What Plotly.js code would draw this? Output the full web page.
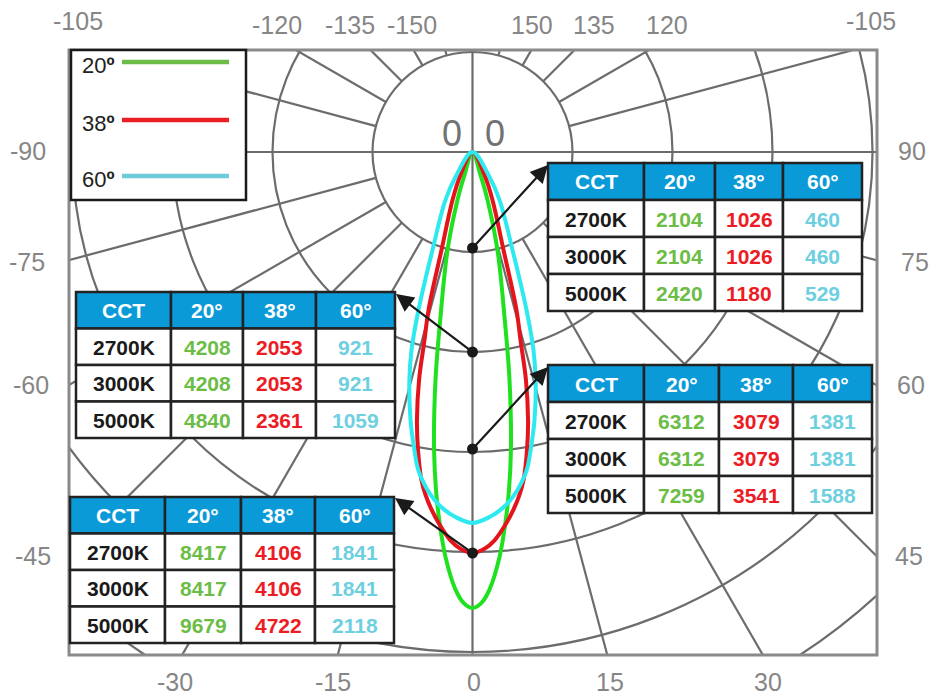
<!DOCTYPE html>
<html><head><meta charset="utf-8">
<script src="https://cdn.plot.ly/plotly-3.0.1.min.js"></script>
<style>html,body{margin:0;padding:0;background:#fff}#chart{width:931px;height:696px}</style>
</head><body><div id="chart"></div>
<script>
// ---- Beam distribution data: angle from nadir (deg) and intensity (grid-ring units) ----
const angles20 = [0, 1.14, 2.22, 3.81, 5.08, 6.16, 7.36, 9.22, 10.98, 14.3, 17.4, 19.2, 20];
const radii20  = [4.56, 4.51, 4.38, 4.06, 3.72, 3.40, 3.00, 2.31, 1.68, 1.01, 0.50, 0.24, 0];
const angles38 = [0, 1.73, 3.25, 5.06, 6.53, 7.80, 8.84, 10.36, 11.70, 13.2, 14.32, 15.56, 17.55, 22.6, 27.55, 29];
const radii38  = [4.01, 3.97, 3.89, 3.74, 3.60, 3.46, 3.32, 3.03, 2.74, 2.34, 1.94, 1.64, 1.03, 0.52, 0.26, 0];
const angles60 = [0, 2.82, 4.47, 6.23, 7.58, 9.64, 11.01, 13.03, 15.45, 17.12, 18.87, 22.2, 29.4, 34.8, 36];
const radii60  = [3.71, 3.65, 3.59, 3.50, 3.41, 3.23, 3.04, 2.75, 2.37, 2.07, 1.67, 1.06, 0.55, 0.28, 0];
const beamLabels = ['20º', '38º', '60º'];

// measuring points on the nadir axis (ring units)
const pointRadii = [0.96, 2.0, 2.97, 4.01];

// ---- Illuminance tables ----
const tableHeader = ['CCT', '20°', '38°', '60°'];
const cctLabels = ['2700K', '3000K', '5000K'];
const tableA20 = [2104, 2104, 2420], tableA38 = [1026, 1026, 1180], tableA60 = [460, 460, 529];
const tableB20 = [4208, 4208, 4840], tableB38 = [2053, 2053, 2361], tableB60 = [921, 921, 1059];
const tableC20 = [6312, 6312, 7259], tableC38 = [3079, 3079, 3541], tableC60 = [1381, 1381, 1588];
const tableD20 = [8417, 8417, 9679], tableD38 = [4106, 4106, 4722], tableD60 = [1841, 1841, 2118];

// ---- Angle labels ----
const topLabels = ['-105', '-120', '-135', '-150', '150', '135', '120', '-105'];
const leftLabels = ['-90', '-75', '-60', '-45'];
const rightLabels = ['90', '75', '60', '45'];
const bottomLabels = ['-30', '-15', '0', '15', '30'];

// ---------------------------------------------------------------
const L = 69, R = 877, T = 50, B = 655, CX = 472.5, CY = 152;
const X = px => (px - L) / (R - L);
const Y = py => (B - py) / (B - T);
const rad = d => d * Math.PI / 180;
const FONT = 'Liberation Sans, Arial, sans-serif';

const beamColors = ['#1fe11f', '#e3141c', '#2de9f0'];
const legendColors = ['#6bbd47', '#ec1f27', '#6dcbdc'];
const gridColor = '#6c6c6c';

function beamTrace(angles, radii, color, name) {
  const a = [], r = [];
  for (let i = angles.length - 1; i >= 0; i--) { a.push(-angles[i]); r.push(radii[i]); }
  for (let i = 1; i < angles.length; i++) { a.push(angles[i]); r.push(radii[i]); }
  return {
    type: 'scatter', mode: 'lines', name: name,
    x: a.map((d, i) => r[i] * Math.sin(rad(d))),
    y: a.map((d, i) => -r[i] * Math.cos(rad(d))),
    line: {color: color, width: 4, shape: 'spline', smoothing: 1},
    hoverinfo: 'skip'
  };
}

const traces = [
  beamTrace(angles20, radii20, beamColors[0], beamLabels[0]),
  beamTrace(angles38, radii38, beamColors[1], beamLabels[1]),
  beamTrace(angles60, radii60, beamColors[2], beamLabels[2]),
  {type: 'scatter', mode: 'markers', x: pointRadii.map(() => 0), y: pointRadii.map(r => -r),
   marker: {color: '#1a1a1a', size: 11}, hoverinfo: 'skip'}
];

// ---- grid shapes ----
const shapes = [];
const annotations = [];
for (let r = 1; r <= 7; r++) {
  shapes.push({type: 'circle', xref: 'x', yref: 'y', x0: -r, x1: r, y0: -r, y1: r,
    line: {color: gridColor, width: 2.2}, layer: 'below'});
}
for (let k = 0; k < 24; k++) {
  const a = k * 15;
  if (a % 90 === 0) continue;
  shapes.push({type: 'line', xref: 'x', yref: 'y',
    x0: Math.sin(rad(a)), y0: -Math.cos(rad(a)), x1: 9 * Math.sin(rad(a)), y1: -9 * Math.cos(rad(a)),
    line: {color: gridColor, width: 2.2}, layer: 'below'});
}
shapes.push({type: 'line', xref: 'x', yref: 'y', x0: 0, x1: 0, y0: -6, y1: 2, line: {color: gridColor, width: 2.2}, layer: 'below'});
shapes.push({type: 'line', xref: 'x', yref: 'y', x0: -5, x1: 5, y0: 0, y1: 0, line: {color: gridColor, width: 2.2}, layer: 'below'});
// frame
shapes.push({type: 'rect', xref: 'paper', yref: 'paper', x0: 0, x1: 1, y0: 0, y1: 1,
  line: {color: '#8a8a8a', width: 3}, layer: 'above'});
// legend box
shapes.push({type: 'rect', xref: 'paper', yref: 'paper', x0: X(71), x1: X(246), y0: Y(200), y1: Y(50),
  fillcolor: '#ffffff', line: {color: '#1a1a1a', width: 2.5}, layer: 'above'});
const legendY = [62, 120, 176];
legendY.forEach((py, i) => shapes.push({type: 'line', xref: 'paper', yref: 'paper',
  x0: X(122), x1: X(229), y0: Y(py), y1: Y(py), line: {color: legendColors[i], width: 4.5}, layer: 'above'}));

// ---- tables built from the arrays ----
const valueColors = ['#1a1a1a', '#6cbd45', '#ec1c24', '#6ecfe0'];
function drawTable(px0, py0, rowH, colW, v20, v38, v60) {
  const cols = [cctLabels, v20, v38, v60];
  let x = px0;
  colW.forEach((w, c) => {
    for (let r = 0; r < 4; r++) {
      const y = py0 + r * rowH;
      shapes.push({type: 'rect', xref: 'paper', yref: 'paper', x0: X(x), x1: X(x + w), y0: Y(y + rowH), y1: Y(y),
        fillcolor: r === 0 ? '#0a9ad8' : '#ffffff', line: {color: '#222222', width: 2.5}, layer: 'above'});
      const txt = r === 0 ? tableHeader[c] : String(cols[c][r - 1]);
      annotations.push({xref: 'paper', yref: 'paper', x: X(x + w / 2), y: Y(y + rowH / 2 + 0.5),
        text: '<b>' + txt + '</b>', showarrow: false, xanchor: 'center', yanchor: 'middle',
        font: {family: FONT, size: 21, color: r === 0 ? '#ffffff' : valueColors[c]}});
    }
    x += w;
  });
}
drawTable(548, 163, 37, [96, 71, 68, 79], tableA20, tableA38, tableA60);
drawTable(76, 292, 36.5, [95, 72, 73, 79], tableB20, tableB38, tableB60);
drawTable(548, 365, 37, [96, 75, 74, 79], tableC20, tableC38, tableC60);
drawTable(70, 497, 36.5, [95, 76, 74, 79], tableD20, tableD38, tableD60);

// ---- annotations ----
const lblFont = {family: FONT, size: 25, color: '#868686'};
function lbl(text, px, py, font) {
  annotations.push({xref: 'paper', yref: 'paper', x: X(px), y: Y(py), text: text, showarrow: false,
    xanchor: 'center', yanchor: 'middle', font: font || lblFont});
}
const topX = [78, 277, 350, 412, 532, 594, 667, 871];
const topY = [21, 25, 25, 25, 25, 25, 25, 21];
topLabels.forEach((t, i) => lbl(t, topX[i], topY[i]));
const sideY = [151, 262, 385, 556];
leftLabels.forEach((t, i) => lbl(t, [28, 27, 31, 33][i], sideY[i]));
rightLabels.forEach((t, i) => lbl(t, [912, 915, 911, 909][i], sideY[i]));
const botX = [175, 333, 474, 610, 768];
bottomLabels.forEach((t, i) => lbl(t, botX[i], 682));
const zeroFont = {family: FONT, size: 36, color: '#727272'};
lbl('0', 452, 133, zeroFont);
lbl('0', 495, 133, zeroFont);
// legend text
beamLabels.forEach((t, i) => annotations.push({xref: 'paper', yref: 'paper', x: X(80), y: Y(legendY[i] + 3),
  text: t.replace('º', '<b>º</b>'), showarrow: false, xanchor: 'left', yanchor: 'middle',
  font: {family: FONT, size: 22, color: '#222'}}));
// arrows from measuring points to tables
const arrowTips = [[548, 165], [396, 294], [548, 367], [395, 498]];
pointRadii.forEach((r, i) => annotations.push({
  xref: 'x', yref: 'y', axref: 'x', ayref: 'y',
  x: (arrowTips[i][0] - CX) / 100, y: (CY - arrowTips[i][1]) / 100,
  ax: 0, ay: -r, text: '', showarrow: true, arrowhead: 2, arrowsize: 1.6, arrowwidth: 2.2,
  arrowcolor: '#1a1a1a', standoff: 0, startstandoff: 0
}));

const layout = {
  width: 931, height: 696,
  margin: {l: L, r: 931 - R, t: T, b: 696 - B, pad: 0},
  paper_bgcolor: '#ffffff', plot_bgcolor: '#ffffff',
  xaxis: {range: [(L - CX) / 100, (R - CX) / 100], visible: false, fixedrange: true},
  yaxis: {range: [(CY - B) / 100, (CY - T) / 100], visible: false, fixedrange: true},
  showlegend: false, shapes: shapes, annotations: annotations
};
Plotly.newPlot('chart', traces, layout, {displayModeBar: false, staticPlot: true});
</script></body></html>
